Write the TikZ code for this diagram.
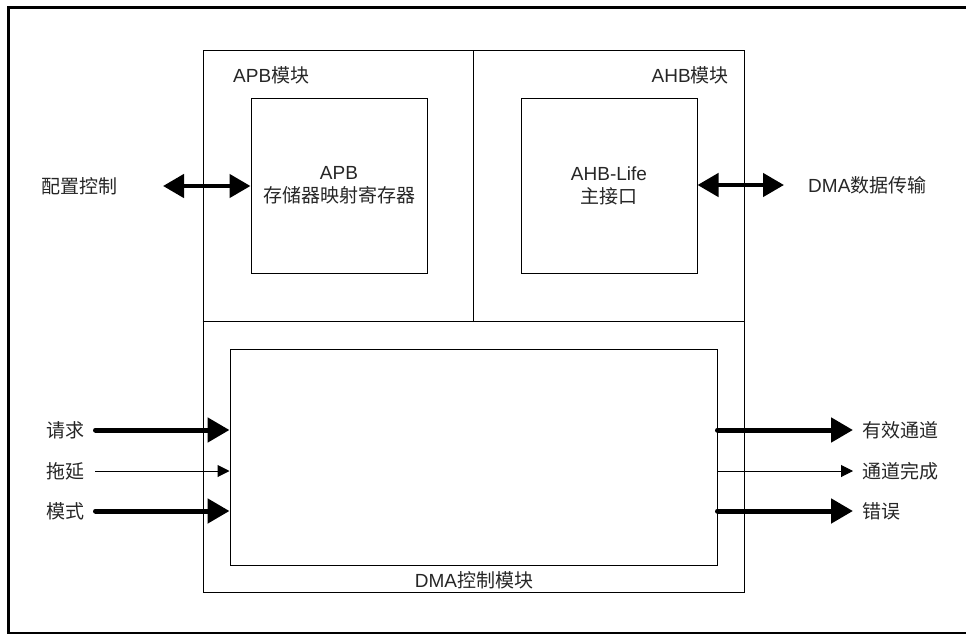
\documentclass[tikz,border=0pt]{standalone}
\usepackage{fontspec}
\setmainfont{Liberation Sans}
\newfontfamily\cjkfont{Noto Sans CJK SC}
\newcommand{\zh}[1]{{\cjkfont #1}}
\usetikzlibrary{arrows.meta,positioning}

\begin{document}
\begin{tikzpicture}[x=1pt,y=-1pt,
		every node/.style={font=\fontsize{19}{23}\selectfont, text=black!85},
		box/.style={draw, line width=1pt, rectangle, inner sep=0pt},
		lbl/.style={inner sep=0pt},
		busarrow/.style={line width=4.5pt, {Triangle[length=21pt,width=23pt]}-{Triangle[length=21pt,width=23pt]}},
		sigthick/.style={line width=5pt, line cap=round, -{Triangle[length=22pt,width=24pt]}},
		sigthin/.style={line width=1pt, -{Triangle[length=12pt,width=12pt]}},
	]
	\useasboundingbox (0,0) rectangle (966,634);
	% outer frame
	\draw[line width=3pt] (8.5,634) -- (8.5,7.5) -- (970,7.5);
	\draw[line width=2pt] (8.5,633) -- (970,633);

	% modules
	\node[box, minimum width=541pt, minimum height=541pt] (dmamod) at (473.5,321.5) {};
	\draw[line width=1pt] (dmamod.west) -- (dmamod.east)
	(dmamod.north) -- (dmamod.center);
	\node[lbl, anchor=west] (apbtitle) at (233,75) {APB\zh{模块}};
	\node[lbl, anchor=east] (ahbtitle) at (729,75) {AHB\zh{模块}};
	\node[lbl] (ctltitle) at (474,580) {DMA\zh{控制模块}};

	\node[box, minimum width=176pt, minimum height=175pt, align=center] (apbreg) at (339,185.5) {APB\\\zh{存储器映射寄存器}};
	\node[box, minimum width=176pt, minimum height=175pt, align=center] (ahbif) at (609,185.5) {AHB-Life\\\zh{主接口}};
	\node[box, minimum width=487pt, minimum height=216pt] (dmactl) at (473.5,457) {};

	% bus interfaces
	\coordinate (cfgtail) at (163,186);
	\node[lbl, left=45pt of cfgtail] (cfg) {\zh{配置控制}};
	\draw[busarrow] (cfgtail) -- (cfgtail -| apbreg.west);
	\coordinate (xfertail) at (784,185);
	\node[lbl, right=24pt of xfertail] (xfer) {DMA\zh{数据传输}};
	\draw[busarrow] (ahbif.east |- xfertail) -- (xfertail);

	% inputs
	\coordinate (reqtail) at (95.5,430);
	\node[lbl, left=11pt of reqtail] (req) {\zh{请求}};
	\draw[sigthick] (reqtail) -- (reqtail -| dmactl.west);
	\coordinate (stalltail) at (95,471);
	\node[lbl, left=10pt of stalltail] (stall) {\zh{拖延}};
	\draw[sigthin] (stalltail) -- (stalltail -| dmactl.west);
	\coordinate (modetail) at (95.5,511);
	\node[lbl, left=11pt of modetail] (mode) {\zh{模式}};
	\draw[sigthick] (modetail) -- (modetail -| dmactl.west);

	% outputs
	\coordinate (validtip) at (853,430);
	\node[lbl, right=9pt of validtip] (valid) {\zh{有效通道}};
	\draw[sigthick] (dmactl.east |- validtip) -- (validtip);
	\coordinate (donetip) at (853,471);
	\node[lbl, right=9pt of donetip] (done) {\zh{通道完成}};
	\draw[sigthin] (dmactl.east |- donetip) -- (donetip);
	\coordinate (errtip) at (853,511);
	\node[lbl, right=9pt of errtip] (err) {\zh{错误}};
	\draw[sigthick] (dmactl.east |- errtip) -- (errtip);
\end{tikzpicture}
\end{document}
